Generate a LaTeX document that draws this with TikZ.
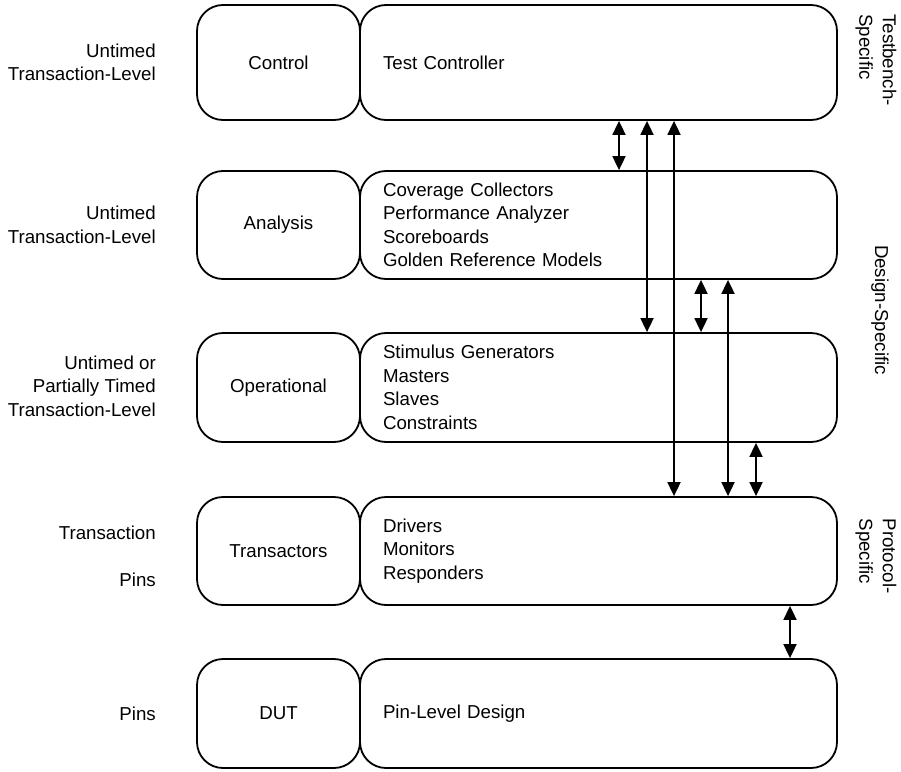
\documentclass[tikz,border=0pt]{standalone}
\usepackage{fontspec}
\setmainfont{Liberation Sans}
\usetikzlibrary{arrows.meta}
\begin{document}
\begin{tikzpicture}[x=1pt,y=-1pt,
  font=\fontsize{18.7}{23.5}\selectfont,
  layer/.style={draw, line width=1.8pt, rounded corners=26pt, minimum width=163pt},
  detail/.style={draw, line width=1.8pt, rounded corners=26pt, minimum width=477pt,
    text width=431pt, inner xsep=23pt, align=left},
  lvl/.style={anchor=east, align=right, inner sep=0pt},
  scope label/.style={rotate=-90, align=left, inner sep=0pt},
  link/.style={line width=1.8pt, {Triangle[width=13pt,length=14pt]}-{Triangle[width=13pt,length=14pt]}}]
\useasboundingbox (0,0) rectangle (901,771);

% layer boxes (left) and their contents (right)
\node[layer, minimum height=115pt] (ctl)  at (278.5,62.5) {Control};
\node[detail, minimum height=115pt] (ctlR) at (598.5,62.5) {Test Controller};

\node[layer, minimum height=108pt] (ana)  at (278.5,225) {Analysis};
\node[detail, minimum height=108pt] (anaR) at (598.5,225)
  {Coverage Collectors\\Performance Analyzer\\Scoreboards\\Golden Reference Models};

\node[layer, minimum height=109pt] (op)  at (278.5,387.5) {Operational};
\node[detail, minimum height=109pt] (opR) at (598.5,387.5)
  {Stimulus Generators\\Masters\\Slaves\\Constraints};

\node[layer, minimum height=108pt] (tr)  at (278.5,551) {Transactors};
\node[detail, minimum height=108pt] (trR) at (598.5,551)
  {Drivers\\Monitors\\Responders};

\node[layer, minimum height=109pt] (dut)  at (278.5,713.5) {DUT};
\node[detail, minimum height=109pt] (dutR) at (598.5,713.5) {Pin-Level Design};

% abstraction levels
\node[lvl] (l1) at (156,62.5) {Untimed\\Transaction-Level};
\node[lvl] (l2) at (156,225) {Untimed\\Transaction-Level};
\node[lvl] (l3) at (156,386) {Untimed or\\Partially Timed\\Transaction-Level};
\node[lvl] (l4a) at (156,533) {Transaction};
\node[lvl] (l4b) at (156,580) {Pins};
\node[lvl] (l5) at (156,713.5) {Pins};

% scope labels
\node[scope label] (s1) at (876,60) {Testbench-\\Specific};
\node[scope label] (s2) at (880,310) {Design-Specific};
\node[scope label] (s3) at (876,556) {Protocol-\\Specific};

% connector columns
\coordinate (c1) at (619,0);
\coordinate (c2) at (647,0);
\coordinate (c3) at (674,0);
\coordinate (c4) at (701,0);
\coordinate (c5) at (728,0);
\coordinate (c6) at (756,0);
\coordinate (c7) at (790,0);

\draw[link] (ctlR.south -| c1) -- (anaR.north -| c1);
\draw[link] (ctlR.south -| c2) -- (opR.north -| c2);
\draw[link] (ctlR.south -| c3) -- (trR.north -| c3);
\draw[link] (anaR.south -| c4) -- (opR.north -| c4);
\draw[link] (anaR.south -| c5) -- (trR.north -| c5);
\draw[link] (opR.south -| c6) -- (trR.north -| c6);
\draw[link] (trR.south -| c7) -- (dutR.north -| c7);
\end{tikzpicture}
\end{document}
